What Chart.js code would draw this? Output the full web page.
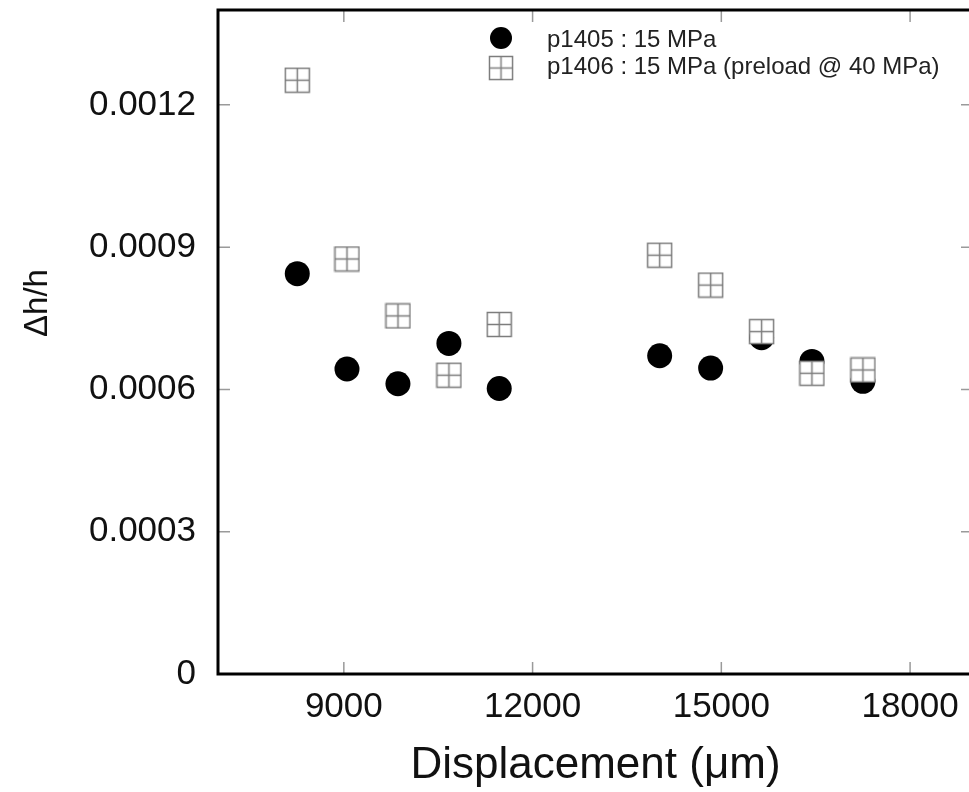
<!DOCTYPE html>
<html>
<head>
<meta charset="utf-8">
<script src="https://cdn.jsdelivr.net/npm/chart.js@4.4.1/dist/chart.umd.min.js"></script>
<style>
  html, body { margin: 0; padding: 0; background: #fff; overflow: hidden; }
  #wrap { width: 985px; height: 792px; }
</style>
</head>
<body>
<div id="wrap"><canvas id="dispChart" width="985" height="792"></canvas></div>
<script>
// data
const displacement = [8260, 9050, 9860, 10670, 11470, 14020, 14830, 15640, 16440, 17250];
const p1405 = [0.000844, 0.000643, 0.000612, 0.000697, 0.000602, 0.000671, 0.000645, 0.000709, 0.000659, 0.000617];
const p1406 = [0.001252, 0.000875, 0.000755, 0.000630, 0.000737, 0.000883, 0.000820, 0.000722, 0.000634, 0.000641];
const xTicks = [9000, 12000, 15000, 18000];
const yTicks = [0, 0.0003, 0.0006, 0.0009, 0.0012];
const yTickLabels = ['0', '0.0003', '0.0006', '0.0009', '0.0012'];
const seriesLabels = ['p1405 : 15 MPa', 'p1406 : 15 MPa (preload @ 40 MPa)'];
const xTitle = 'Displacement (\u03bcm)';
const yTitle = '\u0394h/h';

const FONT = "'Liberation Sans', Arial, sans-serif";

// open square with a cross, used as point style for p1406
function makeCrossSquare(size) {
    const c = document.createElement('canvas');
    c.width = size;
    c.height = size;
    const g = c.getContext('2d');
    g.fillStyle = '#fff';
    g.fillRect(1, 1, size - 2, size - 2);
    g.strokeStyle = '#7d7d7d';
    g.lineWidth = 1.5;
    g.strokeRect(1.5, 1.5, size - 3, size - 3);
    g.beginPath();
    g.moveTo(size / 2, 1.5); g.lineTo(size / 2, size - 1.5);
    g.moveTo(1.5, size / 2); g.lineTo(size - 1.5, size / 2);
    g.stroke();
    return c;
}
const crossSquare = makeCrossSquare(27);

// inward ticks on all four sides + heavy frame
const framePlugin = {
    id: 'frame',
    beforeDatasetsDraw(chart) {
        const { ctx, chartArea: a, scales: { x, y } } = chart;
        ctx.save();
        ctx.strokeStyle = '#9a9a9a';
        ctx.lineWidth = 1.5;
        ctx.beginPath();
        xTicks.forEach(v => {
            const px = x.getPixelForValue(v);
            ctx.moveTo(px, a.bottom); ctx.lineTo(px, a.bottom - 12);
            ctx.moveTo(px, a.top); ctx.lineTo(px, a.top + 12);
        });
        yTicks.forEach(v => {
            const py = y.getPixelForValue(v);
            ctx.moveTo(a.left, py); ctx.lineTo(a.left + 12, py);
            ctx.moveTo(a.right, py); ctx.lineTo(a.right - 12, py);
        });
        ctx.stroke();
        ctx.restore();
    },
    afterDatasetsDraw(chart) {
        const { ctx, chartArea: a } = chart;
        ctx.save();
        ctx.strokeStyle = '#000';
        ctx.lineWidth = 3;
        ctx.strokeRect(a.left, a.top, a.right - a.left, a.bottom - a.top);
        ctx.restore();
    }
};

// legend inside the plot + rotated y title
const annotPlugin = {
    id: 'annot',
    afterDraw(chart) {
        const { ctx, chartArea: a } = chart;
        ctx.save();
        const lx = a.left + 283;
        ctx.fillStyle = '#000';
        ctx.beginPath();
        ctx.arc(lx, a.top + 28, 11, 0, Math.PI * 2);
        ctx.fill();
        ctx.drawImage(crossSquare, lx - 13, a.top + 58 - 13, 26, 26);

        ctx.font = '24px ' + FONT;
        ctx.fillStyle = '#222';
        ctx.textAlign = 'left';
        ctx.textBaseline = 'alphabetic';
        ctx.fillText(seriesLabels[0], lx + 46, a.top + 37);
        ctx.fillText(seriesLabels[1], lx + 46, a.top + 64);

        ctx.translate(38, 303);
        ctx.rotate(-Math.PI / 2);
        ctx.font = '33px ' + FONT;
        ctx.fillStyle = '#111';
        ctx.textAlign = 'center';
        ctx.textBaseline = 'middle';
        ctx.fillText(yTitle, 0, 0);
        ctx.restore();
    }
};

const chart = new Chart(document.getElementById('dispChart'), {
    type: 'scatter',
    data: {
        datasets: [
            {
                label: seriesLabels[0],
                data: displacement.map((d, i) => ({ x: d, y: p1405[i] })),
                pointStyle: 'circle',
                pointRadius: 12.5,
                backgroundColor: '#000',
                borderColor: '#000',
                borderWidth: 0,
                order: 1
            },
            {
                label: seriesLabels[1],
                data: displacement.map((d, i) => ({ x: d, y: p1406[i] })),
                pointStyle: crossSquare,
                pointRadius: 13,
                order: 0
            }
        ]
    },
    options: {
        responsive: false,
        animation: false,
        layout: { autoPadding: false, padding: { top: 10, right: 12, left: 0, bottom: 0 } },
        plugins: {
            legend: { display: false },
            tooltip: { enabled: false }
        },
        scales: {
            x: {
                type: 'linear',
                min: 7000,
                max: 19000,
                afterBuildTicks: s => { s.ticks = xTicks.map(v => ({ value: v })); },
                afterFit: s => {
                    s.height = 118;
                    s.paddingLeft = 0;
                    s.paddingRight = 0;
                },
                grid: { display: false, drawTicks: false },
                border: { display: false },
                ticks: {
                    autoSkip: false,
                    maxRotation: 0,
                    padding: 12,
                    color: '#111',
                    font: { family: FONT, size: 35 },
                    callback: v => String(v)
                },
                title: {
                    display: true,
                    text: xTitle,
                    color: '#111',
                    font: { family: FONT, size: 44 },
                    padding: 0
                }
            },
            y: {
                min: 0,
                max: 0.0014,
                afterBuildTicks: s => { s.ticks = yTicks.map(v => ({ value: v })); },
                afterFit: s => {
                    s.width = 218;
                    s.paddingTop = 0;
                    s.paddingBottom = 0;
                },
                grid: { display: false, drawTicks: false },
                border: { display: false },
                ticks: {
                    autoSkip: false,
                    padding: 22,
                    color: '#111',
                    font: { family: FONT, size: 35 },
                    callback: (v, i) => yTickLabels[i]
                }
            }
        }
    },
    plugins: [framePlugin, annotPlugin]
});
</script>
</body>
</html>
